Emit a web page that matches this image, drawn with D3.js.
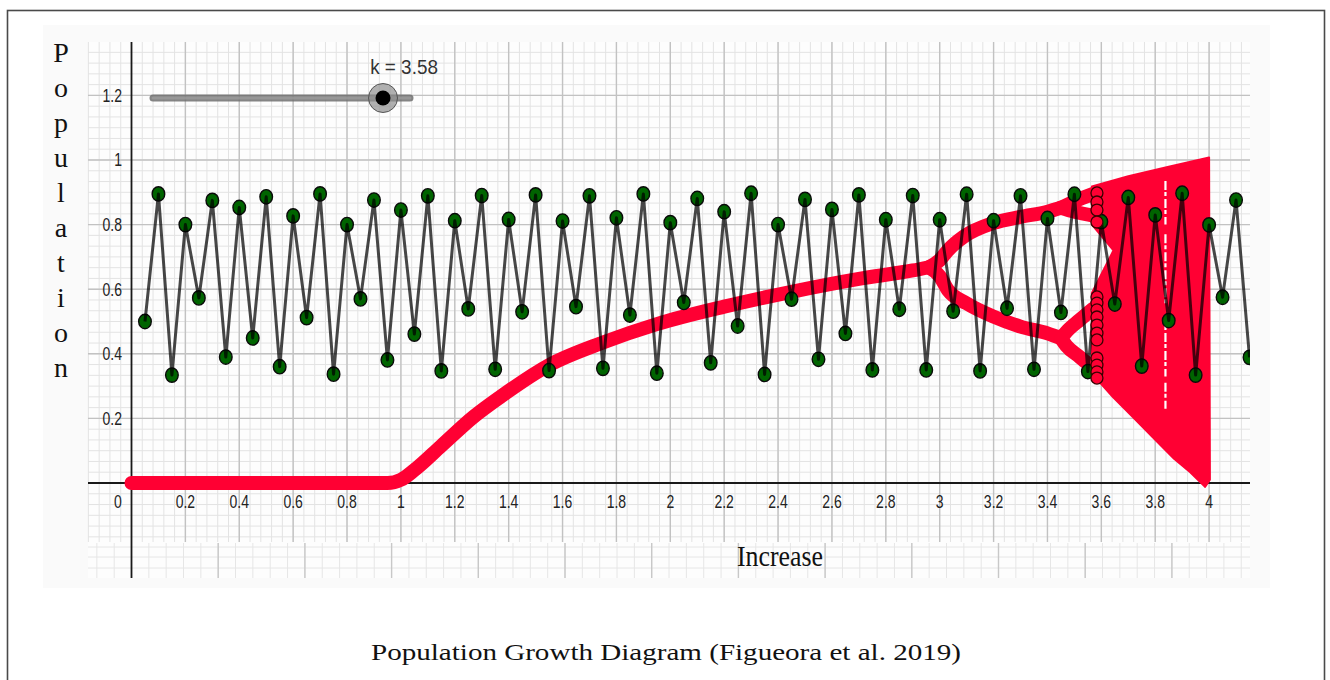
<!DOCTYPE html>
<html>
<head>
<meta charset="utf-8">
<script src="https://cdn.jsdelivr.net/npm/d3@7"></script>
<style>
  body { margin: 0; background: #fff; }
  svg { display: block; }
</style>
</head>
<body>
<div id="chart"></div>
<script>
//values
var xTickValues = [0, 0.2, 0.4, 0.6, 0.8, 1, 1.2, 1.4, 1.6, 1.8, 2, 2.2, 2.4, 2.6, 2.8, 3, 3.2, 3.4, 3.6, 3.8, 4];
var xTickLabels = ["0", "0.2", "0.4", "0.6", "0.8", "1", "1.2", "1.4", "1.6", "1.8", "2", "2.2", "2.4", "2.6", "2.8", "3", "3.2", "3.4", "3.6", "3.8", "4"];
var yTickValues = [0.2, 0.4, 0.6, 0.8, 1, 1.2];
var yTickLabels = ["0.2", "0.4", "0.6", "0.8", "1", "1.2"];

//slider
var sliderK = 3.58;
var sliderRange = [0, 4];

//green orbit points, one every 0.05 along x
var orbitStep = 0.05;
var orbitValues = [
    0.50, 0.895, 0.334, 0.80, 0.573, 0.875, 0.39, 0.853, 0.449, 0.886,
    0.36, 0.827, 0.512, 0.895, 0.337, 0.80, 0.57, 0.876, 0.381, 0.845,
    0.461, 0.889, 0.347, 0.812, 0.539, 0.890, 0.352, 0.816, 0.53, 0.892,
    0.348, 0.811, 0.546, 0.889, 0.355, 0.821, 0.52, 0.895, 0.34, 0.806,
    0.559, 0.881, 0.372, 0.84, 0.486, 0.897, 0.336, 0.80, 0.569, 0.878,
    0.383, 0.847, 0.463, 0.892, 0.35, 0.815, 0.538, 0.890, 0.35, 0.815,
    0.532, 0.894, 0.347, 0.812, 0.541, 0.889, 0.352, 0.819, 0.528, 0.894,
    0.345, 0.809, 0.554, 0.884, 0.362, 0.83, 0.503, 0.897, 0.334, 0.799,
    0.575, 0.876, 0.389
];

//red bifurcation bands, [k, population]
var stableBranch = [[0, 0], [0.95, 0], [1.0, 0.01], [1.05, 0.04], [1.15, 0.115], [1.27, 0.205], [1.37, 0.267],
    [1.55, 0.365], [1.75, 0.435], [1.95, 0.492], [2.2, 0.546], [2.45, 0.592], [2.7, 0.632], [2.9, 0.658], [2.96, 0.668]];
var upperBranch = [[2.96, 0.668], [3.0, 0.69], [3.03, 0.72], [3.09, 0.763], [3.2, 0.805], [3.3, 0.824], [3.4, 0.84], [3.45, 0.852]];
var upperSplitHigh = [[3.45, 0.852], [3.5, 0.872], [3.57, 0.895]];
var upperSplitLow = [[3.45, 0.852], [3.5, 0.84], [3.57, 0.828]];
var lowerBranch = [[2.96, 0.668], [3.0, 0.64], [3.03, 0.598], [3.1, 0.556], [3.2, 0.515], [3.3, 0.484], [3.4, 0.463], [3.45, 0.448]];
var lowerSplitHigh = [[3.45, 0.448], [3.47, 0.468], [3.52, 0.505], [3.57, 0.54]];
var lowerSplitLow = [[3.45, 0.448], [3.47, 0.425], [3.52, 0.39], [3.57, 0.355]];

//outline of the chaotic region
var chaosOutline = [[3.565, 0.918], [3.7, 0.95], [3.85, 0.979], [4.0, 1.008], [4.003, 0.01], [3.985, -0.012],
    [3.93, 0.033], [3.87, 0.075], [3.79, 0.142], [3.717, 0.204], [3.643, 0.266], [3.585, 0.32], [3.565, 0.335],
    [3.565, 0.588], [3.645, 0.72], [3.565, 0.80]];

//white period-3 window inside the chaos, [k, from, to]
var windowGaps = [[3.838, 0.935, 0.80], [3.838, 0.77, 0.55], [3.838, 0.52, 0.33], [3.838, 0.31, 0.23]];

//red circles stacked at k = 3.58
var attractorK = 3.58;
var attractorValues = [0.898, 0.87, 0.845, 0.808, 0.576, 0.557, 0.536, 0.514, 0.489, 0.464, 0.443, 0.387, 0.365, 0.344, 0.325];

var popLetters = "Population".split("");

function renderChart() {
    var width = 1330,
        height = 680;

    var svg = d3.select("#chart")
        .append("svg")
        .attr("width", width)
        .attr("height", height);

    //outer frame of the figure
    svg.append("rect")
        .attr("x", 7.5).attr("y", 10.5)
        .attr("width", 1317).attr("height", 700)
        .attr("fill", "#fff")
        .attr("stroke", "#4a4a4a")
        .attr("stroke-width", 1.6);

    //screenshot backdrop
    svg.append("rect")
        .attr("x", 43).attr("y", 25)
        .attr("width", 1227).attr("height", 563)
        .attr("fill", "#fafafa");

    var left = 88, right = 1250, top = 42, gridBottom = 542, bottom = 578;

    svg.append("rect")
        .attr("x", left).attr("y", top)
        .attr("width", right - left).attr("height", bottom - top)
        .attr("fill", "#fdfdfd");

    var x = d3.scaleLinear().domain([0, 4]).range([131.5, 1209.1]);
    var y = d3.scaleLinear().domain([0, 1]).range([483, 160]);

    svg.append("clipPath").attr("id", "plot-clip")
        .append("rect")
        .attr("x", left).attr("y", top)
        .attr("width", right - left).attr("height", bottom - top);

    var grid = svg.append("g");

    //minor grid
    var xMinor = d3.range(-4, 105).map(i => i * 0.04).filter(v => x(v) >= left && x(v) <= right);
    var yMinor = d3.range(-5, 42).map(i => i / 30).filter(v => y(v) >= top && y(v) <= gridBottom);
    grid.selectAll(".xminor").data(xMinor).join("line")
        .attr("x1", d => x(d)).attr("x2", d => x(d))
        .attr("y1", top).attr("y2", gridBottom)
        .attr("stroke", "#e3e3e3").attr("stroke-width", 1);
    grid.selectAll(".yminor").data(yMinor).join("line")
        .attr("x1", left).attr("x2", right)
        .attr("y1", d => y(d)).attr("y2", d => y(d))
        .attr("stroke", "#e3e3e3").attr("stroke-width", 1);

    //major grid
    grid.selectAll(".xmajor").data(xTickValues.filter(v => v > 0)).join("line")
        .attr("x1", d => x(d)).attr("x2", d => x(d))
        .attr("y1", top).attr("y2", gridBottom)
        .attr("stroke", "#c2c2c2").attr("stroke-width", 1.4);
    grid.selectAll(".ymajor").data(yTickValues).join("line")
        .attr("x1", left).attr("x2", right)
        .attr("y1", d => y(d)).attr("y2", d => y(d))
        .attr("stroke", "#c2c2c2").attr("stroke-width", 1.4);

    //the pasted strip under the axis labels has its own, coarser grid
    var strip = d3.scaleLinear().domain([0, 1]).range([131.5, 218.2]);
    var stripMinor = d3.range(-3, 70).map(i => i * 0.2).filter(v => strip(v) >= left && strip(v) <= right);
    var stripMajor = d3.range(1, 14).filter(v => strip(v) <= right);
    grid.selectAll(".sminor").data(stripMinor).join("line")
        .attr("x1", d => strip(d)).attr("x2", d => strip(d))
        .attr("y1", gridBottom + 1).attr("y2", bottom)
        .attr("stroke", "#e6e6e6").attr("stroke-width", 1);
    grid.selectAll(".shoriz").data([547, 557, 568]).join("line")
        .attr("x1", left).attr("x2", right)
        .attr("y1", d => d).attr("y2", d => d)
        .attr("stroke", "#e6e6e6").attr("stroke-width", 1);
    grid.selectAll(".smajor").data(stripMajor).join("line")
        .attr("x1", d => strip(d)).attr("x2", d => strip(d))
        .attr("y1", gridBottom + 1).attr("y2", bottom)
        .attr("stroke", "#c8c8c8").attr("stroke-width", 1.4);

    //axes
    svg.append("line")
        .attr("x1", left).attr("x2", right)
        .attr("y1", y(0)).attr("y2", y(0))
        .attr("stroke", "#1a1a1a").attr("stroke-width", 1.8);
    svg.append("line")
        .attr("x1", x(0)).attr("x2", x(0))
        .attr("y1", top).attr("y2", bottom)
        .attr("stroke", "#1a1a1a").attr("stroke-width", 1.8);

    //tick labels, narrow and tall like the screenshot
    svg.append("g").selectAll("text").data(xTickValues).join("text")
        .attr("transform", (d, i) => `translate(${i == 0 ? x(d) - 13.5 : x(d)},508) scale(0.8,1)`)
        .attr("text-anchor", "middle")
        .attr("font-family", "Liberation Sans, Arial, sans-serif")
        .attr("font-size", 17.5)
        .attr("fill", "#222")
        .text((d, i) => xTickLabels[i]);
    svg.append("g").selectAll("text").data(yTickValues).join("text")
        .attr("transform", d => `translate(122,${y(d)}) scale(0.8,1)`)
        .attr("dy", "0.36em")
        .attr("text-anchor", "end")
        .attr("font-family", "Liberation Sans, Arial, sans-serif")
        .attr("font-size", 17.5)
        .attr("fill", "#222")
        .text((d, i) => yTickLabels[i]);

    var plot = svg.append("g").attr("clip-path", "url(#plot-clip)");

    //bifurcation diagram
    var red = "#ff0033";
    var band = d3.line().x(d => x(d[0])).y(d => y(d[1])).curve(d3.curveMonotoneX);
    [stableBranch, upperBranch, upperSplitHigh, upperSplitLow, lowerBranch, lowerSplitHigh, lowerSplitLow].forEach(b => {
        plot.append("path")
            .attr("d", band(b))
            .attr("fill", "none")
            .attr("stroke", red)
            .attr("stroke-width", 14)
            .attr("stroke-linecap", "round")
            .attr("stroke-linejoin", "round");
    });

    var outline = d3.line().x(d => x(d[0])).y(d => y(d[1]));
    plot.append("path")
        .attr("d", outline(chaosOutline) + "Z")
        .attr("fill", red)
        .attr("stroke", red)
        .attr("stroke-width", 2)
        .attr("stroke-linejoin", "round");

    plot.selectAll(".gap").data(windowGaps).join("line")
        .attr("x1", d => x(d[0])).attr("x2", d => x(d[0]))
        .attr("y1", d => y(d[1])).attr("y2", d => y(d[2]))
        .attr("stroke", "#fff")
        .attr("stroke-width", 2.2)
        .attr("stroke-dasharray", "9,2,4,3");

    //green orbit
    var orbit = orbitValues.map((v, i) => [(i + 1) * orbitStep, v]);
    plot.selectAll(".pt").data(orbit).join("ellipse")
        .attr("cx", d => x(d[0]))
        .attr("cy", d => y(d[1]))
        .attr("rx", 6.3).attr("ry", 7.2)
        .attr("fill", "#006400")
        .attr("stroke", "#0a0a0a")
        .attr("stroke-width", 1.4);
    plot.append("path")
        .attr("d", d3.line().x(d => x(d[0])).y(d => y(d[1]))(orbit))
        .attr("fill", "none")
        .attr("stroke", "#000")
        .attr("stroke-opacity", 0.72)
        .attr("stroke-width", 3)
        .attr("stroke-linejoin", "round");

    //red attractor circles at k = 3.58
    plot.selectAll(".att").data(attractorValues).join("circle")
        .attr("cx", x(attractorK) + 1)
        .attr("cy", d => y(d))
        .attr("r", 6)
        .attr("fill", red)
        .attr("stroke", "#3a0000")
        .attr("stroke-width", 1.3);

    //slider
    var sx = d3.scaleLinear().domain(sliderRange).range([153, 410]);
    var sy = 98;
    svg.append("line")
        .attr("x1", sx(sliderRange[0])).attr("x2", sx(sliderRange[1]))
        .attr("y1", sy).attr("y2", sy)
        .attr("stroke", "#6f6f6f").attr("stroke-width", 7)
        .attr("stroke-linecap", "round").attr("stroke-opacity", 0.85);
    svg.append("line")
        .attr("x1", sx(sliderRange[0])).attr("x2", sx(sliderRange[1]))
        .attr("y1", sy).attr("y2", sy)
        .attr("stroke", "#a0a0a0").attr("stroke-width", 3)
        .attr("stroke-linecap", "round").attr("stroke-opacity", 0.7);
    svg.append("circle")
        .attr("cx", sx(sliderK)).attr("cy", sy).attr("r", 14.5)
        .attr("fill", "#8f8f8f").attr("fill-opacity", 0.7)
        .attr("stroke", "#555").attr("stroke-width", 1);
    svg.append("circle")
        .attr("cx", sx(sliderK)).attr("cy", sy).attr("r", 7.5)
        .attr("fill", "#000");
    svg.append("text")
        .attr("transform", `translate(${sx(sliderK) + 21},74) scale(0.9,1)`)
        .attr("text-anchor", "middle")
        .attr("font-family", "Liberation Sans, Arial, sans-serif")
        .attr("font-size", 21)
        .attr("fill", "#333")
        .text("k = " + sliderK.toFixed(2));

    //axis titles
    svg.append("g").selectAll("text").data(popLetters).join("text")
        .attr("x", 61)
        .attr("y", (d, i) => 62 + i * 35)
        .attr("text-anchor", "middle")
        .attr("font-family", "Liberation Serif, Times New Roman, serif")
        .attr("font-size", 28)
        .attr("fill", "#111")
        .text(d => d);
    svg.append("text")
        .attr("x", 780).attr("y", 566)
        .attr("text-anchor", "middle")
        .attr("font-family", "Liberation Serif, Times New Roman, serif")
        .attr("font-size", 29)
        .attr("textLength", 86)
        .attr("lengthAdjust", "spacingAndGlyphs")
        .attr("fill", "#111")
        .text("Increase");

    //caption
    svg.append("text")
        .attr("x", 666).attr("y", 660)
        .attr("text-anchor", "middle")
        .attr("font-family", "Liberation Serif, Times New Roman, serif")
        .attr("font-size", 24)
        .attr("textLength", 590)
        .attr("lengthAdjust", "spacingAndGlyphs")
        .attr("fill", "#111")
        .text("Population Growth Diagram (Figueora et al. 2019)");
}

document.addEventListener("DOMContentLoaded", function () {
    renderChart();
});
</script>
</body>
</html>
